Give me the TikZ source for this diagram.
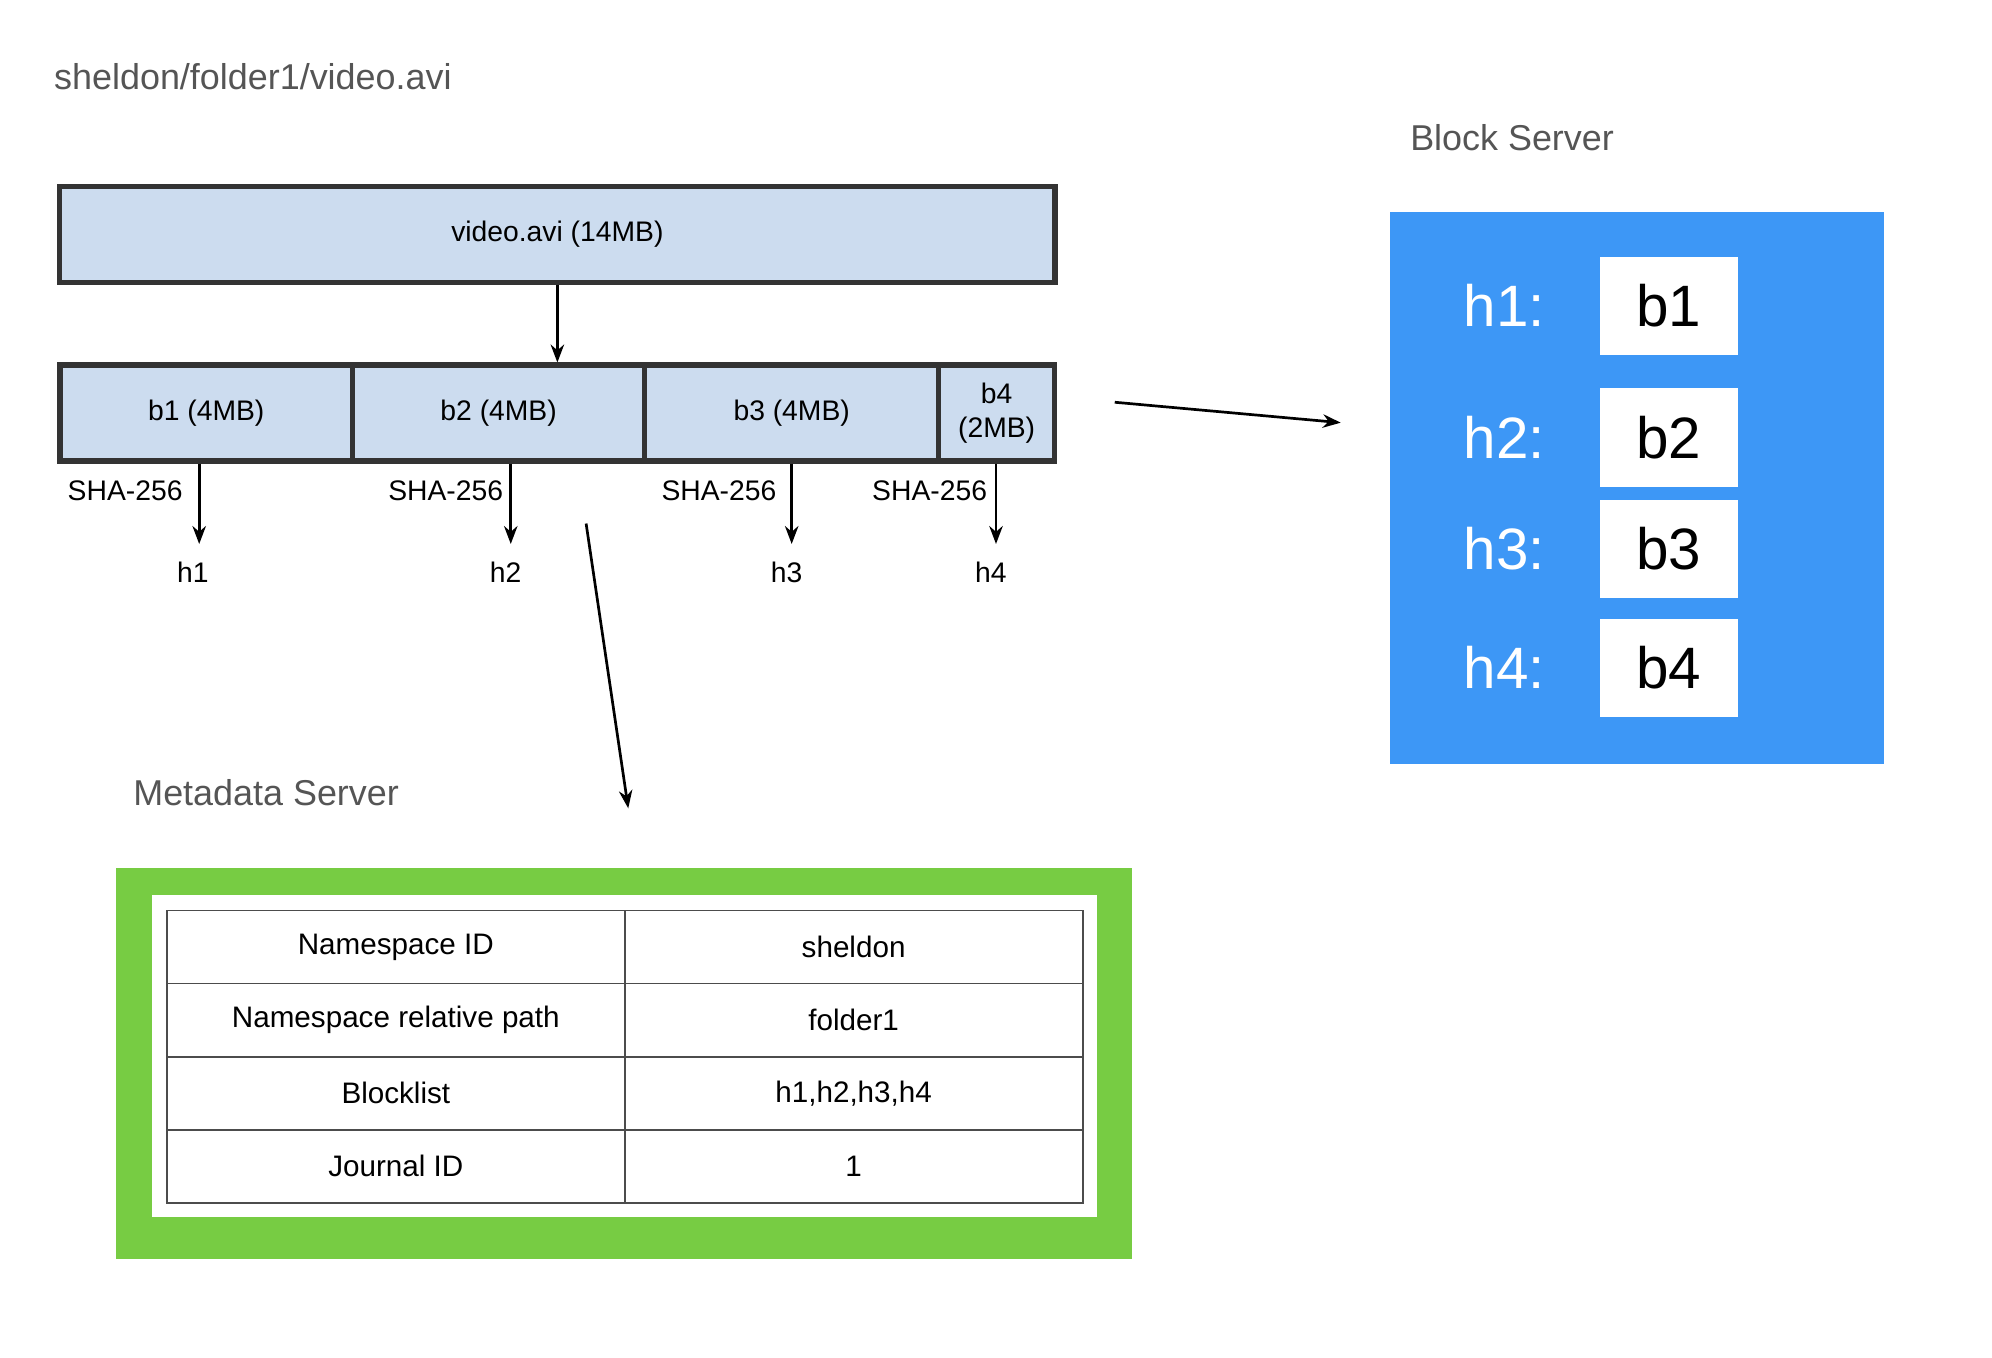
\documentclass[tikz,border=0pt]{standalone}
\usepackage{fontspec}
\setmainfont{Liberation Sans}
\usetikzlibrary{positioning,arrows.meta}
\definecolor{fileblue}{HTML}{CCDCEF}
\definecolor{serverblue}{HTML}{3D97F6}
\definecolor{servergreen}{HTML}{77CC43}
\definecolor{labelgray}{HTML}{555555}
\tikzset{
	filebox/.style={draw=black!80,line width=1.2pt,fill=fileblue,inner sep=0pt,font=\fontsize{6.3}{7.5}\selectfont,align=center},
	blockbox/.style={fill=white,inner sep=0pt,font=\fontsize{13}{15}\selectfont},
	cell/.style={draw=black!70,line width=0.4pt,inner sep=0pt,font=\fontsize{6.6}{8}\selectfont},
	arr/.style={-{Stealth[length=4pt,width=3pt]},line width=0.6pt},
	small/.style={font=\fontsize{6.3}{7.5}\selectfont}
}
\begin{document}
\begin{tikzpicture}[x=0.01cm, y=-0.01cm]
		\useasboundingbox (0,0) rectangle (1560,1063);
		% title
		\node[anchor=west,text=labelgray,font=\fontsize{8}{10}\selectfont] (path) at (30,60) {sheldon/folder1/video.avi};
		% file and its blocks
		\node[filebox,minimum width=7.79cm,minimum height=0.75cm] (video) at (436.5,183.5) {video.avi (14MB)};
		\begin{scope}[every node/.style={filebox,minimum height=0.75cm}]
			\node[minimum width=2.29cm] (b1) at (161.5,323.5) {b1 (4MB)};
			\node[minimum width=2.29cm] (b2) at (390.5,323.5) {b2 (4MB)};
			\node[minimum width=2.30cm] (b3) at (620,323.5) {b3 (4MB)};
			\node[minimum width=0.91cm] (b4) at (780.5,323.5) {b4\\(2MB)};
		\end{scope}
		\draw[arr] (video.south) -- (b2.north -| video.south);
		% hashes
		\begin{scope}[every node/.style={small}]
			\node (h1) at (151,448) {h1};
			\node (h2) at (396,448) {h2};
			\node (h3) at (616,448) {h3};
			\node (h4) at (776,448) {h4};
			\node (s1) at (98,384) {SHA-256};
			\node (s2) at (349,384) {SHA-256};
			\node (s3) at (563,384) {SHA-256};
			\node (s4) at (728,384) {SHA-256};
		\end{scope}
		\coordinate (e1) at (156,426);
		\coordinate (e2) at (400,426);
		\coordinate (e3) at (620,426);
		\coordinate (e4) at (780,426);
		\foreach \i in {1,...,4}
			\draw[arr] (b\i.south -| e\i) -- (e\i);
		% to the servers
		\coordinate (ms) at (459,410);
		\coordinate (me) at (492,633);
		\coordinate (bs) at (873,315);
		\coordinate (be) at (1050,331);
		\draw[arr] (ms) -- (me);
		\draw[arr] (bs) -- (be);
		% block server
		\node[anchor=west,text=labelgray,font=\fontsize{8}{10}\selectfont] (bslabel) at (1092,108) {Block Server};
		\node[fill=serverblue,minimum width=3.86cm,minimum height=4.32cm,inner sep=0pt] (bserver) at (1282,382) {};
		\begin{scope}[every node/.style={blockbox,minimum width=1.08cm,minimum height=0.77cm}]
			\node (k1) at (1307,239.5) {b1};
			\node (k2) at (1307,342.5) {b2};
			\node (k3) at (1307,430) {b3};
			\node (k4) at (1307,523) {b4};
		\end{scope}
		\foreach \i in {1,...,4}
			\node[text=white,font=\fontsize{13}{15}\selectfont,left=0.3cm of k\i] (hk\i) {h\i:};
		% metadata server
		\node[anchor=west,text=labelgray,font=\fontsize{8}{10}\selectfont] (mslabel) at (92,621) {Metadata Server};
		\node[fill=servergreen,minimum width=7.95cm,minimum height=3.06cm,inner sep=0pt] (mserver) at (488.5,833) {};
		\node[fill=white,minimum width=7.40cm,minimum height=2.52cm,inner sep=0pt] (minner) at (489,827) {};
		\begin{scope}[every node/.style={cell,minimum width=3.585cm,minimum height=0.5725cm}]
			\node (r1a) at (310,741.6) {Namespace ID};
			\node (r1b) at (668.5,741.6) {sheldon};
			\node (r2a) at (310,798.9) {Namespace relative path};
			\node (r2b) at (668.5,798.9) {folder1};
			\node (r3a) at (310,856.1) {Blocklist};
			\node (r3b) at (668.5,856.1) {h1,h2,h3,h4};
			\node (r4a) at (310,913.4) {Journal ID};
			\node (r4b) at (668.5,913.4) {1};
		\end{scope}
	\end{tikzpicture}
\end{document}
